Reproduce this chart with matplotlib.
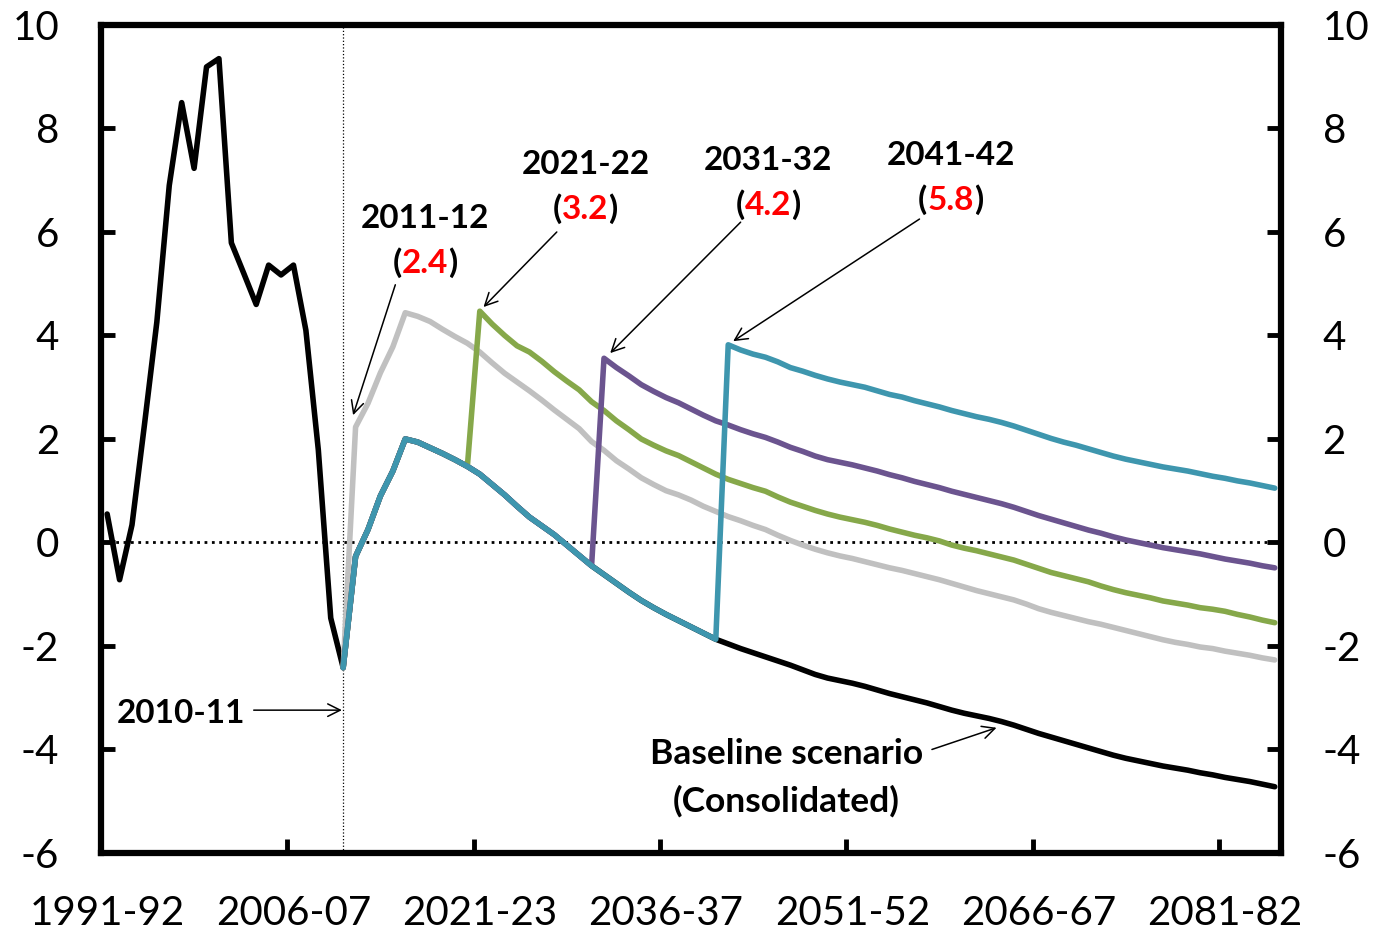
import matplotlib.pyplot as plt

plt.rcParams["font.family"] = ["Lato", "DejaVu Sans"]
plt.rcParams["axes.unicode_minus"] = False

# financial years 1991-92 .. 2085-86 (index 0 .. 94)
years = [f"{y}-{(y + 1) % 100:02d}" for y in range(1991, 2086)]
tick_idx = [0, 15, 30, 45, 60, 75, 90]
tick_labels = ["1991-92", "2006-07", "2021-23", "2036-37", "2051-52", "2066-67", "2081-82"]

# baseline scenario (consolidated), history + projection
baseline = [
    0.55, -0.72, 0.34, 2.27, 4.26, 6.9, 8.5, 7.23, 9.19, 9.35,
    5.79, 5.2, 4.6, 5.36, 5.17, 5.36, 4.1, 1.79, -1.46, -2.42,
    -0.27, 0.25, 0.9, 1.38, 2.0, 1.94, 1.83, 1.72, 1.6, 1.47,
    1.32, 1.12, 0.92, 0.7, 0.49, 0.32, 0.15, -0.05, -0.25, -0.45,
    -0.62, -0.79, -0.96, -1.12, -1.26, -1.39, -1.51, -1.63, -1.75, -1.87,
    -1.96, -2.05, -2.13, -2.21, -2.29, -2.37, -2.46, -2.55, -2.62, -2.67,
    -2.72, -2.78, -2.85, -2.92, -2.98, -3.04, -3.1, -3.17, -3.24, -3.3,
    -3.35, -3.4, -3.46, -3.53, -3.61, -3.69, -3.76, -3.83, -3.9, -3.97,
    -4.04, -4.11, -4.17, -4.22, -4.27, -4.32, -4.36, -4.4, -4.45, -4.49,
    -4.54, -4.58, -4.62, -4.67, -4.72,
]
last_actual = 19  # 2010-11

# consolidation starting 2011-12 (values from index 20)
cons_2011 = [
    2.23, 2.69, 3.28, 3.78, 4.44, 4.37, 4.27, 4.12, 3.98, 3.85,
    3.68, 3.47, 3.27, 3.1, 2.93, 2.75, 2.56, 2.38, 2.2, 1.95,
    1.78, 1.58, 1.42, 1.25, 1.12, 1.0, 0.92, 0.82, 0.7, 0.6,
    0.5, 0.42, 0.33, 0.25, 0.14, 0.04, -0.05, -0.13, -0.2, -0.26,
    -0.31, -0.37, -0.43, -0.49, -0.54, -0.6, -0.66, -0.72, -0.79, -0.86,
    -0.93, -0.99, -1.05, -1.11, -1.19, -1.28, -1.35, -1.41, -1.47, -1.53,
    -1.58, -1.64, -1.7, -1.76, -1.82, -1.88, -1.93, -1.97, -2.02, -2.05,
    -2.1, -2.14, -2.18, -2.23, -2.27,
]
# consolidation starting 2021-22 (values from index 30)
cons_2021 = [
    4.47, 4.22, 4.0, 3.8, 3.68, 3.5, 3.3, 3.12, 2.95, 2.72,
    2.55, 2.35, 2.18, 2.0, 1.88, 1.77, 1.68, 1.56, 1.44, 1.32,
    1.22, 1.14, 1.06, 0.99, 0.88, 0.78, 0.7, 0.62, 0.55, 0.49,
    0.44, 0.39, 0.33, 0.26, 0.2, 0.14, 0.09, 0.03, -0.05, -0.11,
    -0.16, -0.22, -0.28, -0.34, -0.42, -0.5, -0.58, -0.64, -0.7, -0.76,
    -0.84, -0.91, -0.97, -1.02, -1.07, -1.13, -1.17, -1.21, -1.26, -1.29,
    -1.33, -1.39, -1.44, -1.5, -1.55,
]
# consolidation starting 2031-32 (values from index 40)
cons_2031 = [
    3.56, 3.38, 3.22, 3.05, 2.92, 2.8, 2.7, 2.58, 2.46, 2.35,
    2.27, 2.18, 2.1, 2.03, 1.94, 1.84, 1.76, 1.67, 1.6, 1.55,
    1.5, 1.44, 1.38, 1.31, 1.25, 1.18, 1.12, 1.06, 0.99, 0.93,
    0.87, 0.81, 0.75, 0.68, 0.6, 0.52, 0.45, 0.38, 0.31, 0.24,
    0.18, 0.11, 0.05, 0.0, -0.05, -0.1, -0.14, -0.18, -0.22, -0.27,
    -0.32, -0.36, -0.4, -0.45, -0.49,
]
# consolidation starting 2041-42 (values from index 50)
cons_2041 = [
    3.82, 3.72, 3.64, 3.58, 3.49, 3.38, 3.31, 3.23, 3.16, 3.1,
    3.05, 3.0, 2.93, 2.86, 2.81, 2.74, 2.68, 2.62, 2.55, 2.49,
    2.43, 2.38, 2.32, 2.25, 2.17, 2.09, 2.01, 1.94, 1.88, 1.81,
    1.74, 1.67, 1.61, 1.56, 1.51, 1.46, 1.42, 1.38, 1.33, 1.28,
    1.24, 1.19, 1.15, 1.1, 1.05,
]

scenarios = [
    (20, cons_2011, "#C0C0C0"),
    (30, cons_2021, "#86A84A"),
    (40, cons_2031, "#6B548F"),
    (50, cons_2041, "#3E96AE"),
]

fig = plt.figure(figsize=(13.79, 9.36), dpi=100)
ax = fig.add_axes([0.0732, 0.0887, 0.8557, 0.8846])

line_kw = dict(lw=4, solid_joinstyle="round", solid_capstyle="round")
ax.plot(range(len(baseline)), baseline, color="black", zorder=3, **line_kw)
for k, (start, vals, col) in enumerate(scenarios):
    ys = baseline[last_actual:start] + vals
    xs = list(range(last_actual, last_actual + len(ys)))
    ax.plot(xs, ys, color=col, zorder=4 + k, **line_kw)

ax.axhline(0, color="black", lw=2, ls=":", zorder=2)
ax.axvline(last_actual, color="black", lw=0.9, ls=":", zorder=2)

ax.set_xlim(-0.5, len(years) - 0.5)
ax.set_ylim(-6, 10)
ax.set_yticks(range(-6, 11, 2))
ax.set_xticks(tick_idx)
ax.set_xticklabels(tick_labels)
ax.set_xticks([i - 0.5 for i in tick_idx[1:]], minor=True)
ax.tick_params(axis="x", which="major", length=0, pad=30, labelsize=29)
ax.tick_params(axis="x", which="minor", direction="in", length=10, width=3.5)
ax.tick_params(axis="y", direction="in", length=10, width=3.5, left=True, right=True,
               labelleft=True, labelright=True, labelsize=29, pad=30)
for s in ax.spines.values():
    s.set_linewidth(4.5)

bold = dict(fontsize=24, fontweight="bold", ha="center", va="center")
arrow = dict(arrowstyle="->,head_length=0.6,head_width=0.3", color="black", lw=1.1,
             shrinkA=0, shrinkB=0, mutation_scale=15)

# (year label, value, label x, label y, arrow tail, arrow head)
notes = [
    ("2011-12", "2.4", 25.6, 6.27, (23.2, 4.98), (19.8, 2.46)),
    ("2021-22", "3.2", 38.5, 7.3, (36.2, 6.0), (30.3, 4.55)),
    ("2031-32", "4.2", 53.2, 7.39, (51.0, 6.19), (40.5, 3.66)),
    ("2041-42", "5.8", 67.9, 7.47, (65.4, 6.25), (50.4, 3.89)),
]
for lab, val, tx, ty, tail, head in notes:
    ax.text(tx, ty, lab, **bold)
    red = ax.text(tx, ty - 0.87, val, color="red", **bold)
    ax.annotate("(", xy=(0, 0), xycoords=red, ha="right", va="bottom",
                fontsize=24, fontweight="bold")
    ax.annotate(")", xy=(1, 0), xycoords=red, ha="left", va="bottom",
                fontsize=24, fontweight="bold")
    ax.annotate("", xy=head, xytext=tail, arrowprops=arrow)

ax.text(5.94, -3.31, "2010-11", **bold)
ax.annotate("", xy=(18.9, -3.24), xytext=(11.8, -3.24), arrowprops=arrow)

bold_base = dict(bold, fontsize=25.5)
ax.text(54.7, -4.09, "Baseline scenario", **bold_base)
ax.text(54.7, -5.01, "(Consolidated)", **bold_base)
ax.annotate("", xy=(71.6, -3.58), xytext=(66.4, -4.0), arrowprops=arrow)

fig.savefig("out.png", dpi=100)
